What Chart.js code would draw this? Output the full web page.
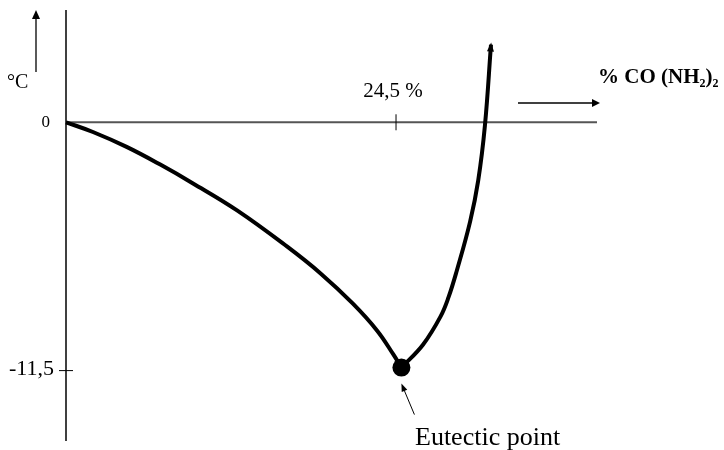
<!DOCTYPE html>
<html>
<head>
<meta charset="utf-8">
<script src="https://cdn.jsdelivr.net/npm/chart.js@4/dist/chart.umd.min.js"></script>
<style>
  html, body { margin: 0; background: #fff; }
</style>
</head>
<body>
<canvas id="c" width="724" height="450"></canvas>
<script>
// freezing branch (ice separates), % urea vs temperature
const iceX = [0, 2.0, 4.5, 7.0, 9.4, 12.7, 16.4, 18.9, 21.3, 23.1, 24.3, 24.9]
const iceT = [0, -0.45, -1.14, -1.96, -2.82, -4.08, -5.75, -7.0, -8.4, -9.65, -10.75, -11.36]
// solubility branch (urea separates)
const ureaX = [24.9, 26.5, 27.8, 28.4, 29.0, 30.0, 30.6, 31.1, 31.55]
const ureaT = [-11.36, -10.3, -9.0, -8.1, -6.9, -4.6, -2.7, -0.15, 3.6]
const eutecticX = [24.9]
const eutecticT = [-11.36]

const xTicks = [24.5]
const xTickLabels = ["24,5 %"]
const yTicks = [0, -11.5]
const yTickLabels = ["0", "-11,5"]

const toPoints = (xs, ys) => xs.map((x, i) => ({x: x, y: ys[i]}))

const serif = "'Liberation Serif', 'DejaVu Serif', serif"

function arrow(ctx, x1, y1, x2, y2, len, half) {
  const a = Math.atan2(y2 - y1, x2 - x1)
  ctx.beginPath()
  ctx.moveTo(x1, y1)
  ctx.lineTo(x2 - Math.cos(a) * len * 0.6, y2 - Math.sin(a) * len * 0.6)
  ctx.stroke()
  ctx.beginPath()
  ctx.moveTo(x2, y2)
  ctx.lineTo(x2 - Math.cos(a) * len - Math.sin(a) * half, y2 - Math.sin(a) * len + Math.cos(a) * half)
  ctx.lineTo(x2 - Math.cos(a) * len + Math.sin(a) * half, y2 - Math.sin(a) * len - Math.cos(a) * half)
  ctx.closePath()
  ctx.fill()
}

const axesPlugin = {
  id: "phaseAxes",
  beforeDatasetsDraw(chart) {
    const {ctx, chartArea: ca, scales: {x, y}} = chart
    const y0 = y.getPixelForValue(0)
    ctx.save()
    // horizontal 0 degC line
    ctx.strokeStyle = "#555"
    ctx.lineWidth = 2
    ctx.beginPath()
    ctx.moveTo(ca.left, y0)
    ctx.lineTo(ca.right, y0)
    ctx.stroke()
    // vertical axis
    ctx.strokeStyle = "#000"
    ctx.lineWidth = 1.5
    ctx.beginPath()
    ctx.moveTo(ca.left, ca.top)
    ctx.lineTo(ca.left, ca.bottom)
    ctx.stroke()

    ctx.lineWidth = 1
    ctx.fillStyle = "#000"
    ctx.textBaseline = "alphabetic"
    xTicks.forEach((v, i) => {
      const px = x.getPixelForValue(v)
      ctx.beginPath()
      ctx.moveTo(px, y0 - 8)
      ctx.lineTo(px, y0 + 8)
      ctx.stroke()
      ctx.font = "21px " + serif
      ctx.textAlign = "center"
      ctx.fillText(xTickLabels[i], px - 3, y0 - 25)
    })
    yTicks.forEach((v, i) => {
      const py = y.getPixelForValue(v)
      if (v !== 0) {
        ctx.beginPath()
        ctx.moveTo(ca.left - 7, py)
        ctx.lineTo(ca.left + 7, py)
        ctx.stroke()
      }
      ctx.textAlign = "right"
      ctx.font = (v === 0 ? "17px " : "22px ") + serif
      ctx.fillText(yTickLabels[i], v === 0 ? ca.left - 16 : ca.left - 12, py + (v === 0 ? 5 : 4))
    })
    ctx.restore()
  },
  afterDatasetsDraw(chart) {
    const {ctx, chartArea: ca, scales: {x, y}} = chart
    ctx.save()
    ctx.fillStyle = "#000"
    ctx.strokeStyle = "#000"

    // arrow head at the top of the solubility curve
    const n = ureaX.length
    const ax = x.getPixelForValue(ureaX[n - 1]), ay = y.getPixelForValue(ureaT[n - 1])
    const bx = x.getPixelForValue(ureaX[n - 2]), by = y.getPixelForValue(ureaT[n - 2])
    const a = Math.atan2(ay - by, ax - bx)
    ctx.beginPath()
    ctx.moveTo(ax + Math.cos(a) * 2, ay + Math.sin(a) * 2)
    ctx.lineTo(ax - Math.cos(a) * 7 - Math.sin(a) * 3.5, ay - Math.sin(a) * 7 + Math.cos(a) * 3.5)
    ctx.lineTo(ax - Math.cos(a) * 7 + Math.sin(a) * 3.5, ay - Math.sin(a) * 7 - Math.cos(a) * 3.5)
    ctx.closePath()
    ctx.fill()

    // unit arrows
    ctx.lineWidth = 1.3
    arrow(ctx, ca.left - 30, 72, ca.left - 30, ca.top, 9, 4)
    arrow(ctx, 518, 103, 600, 103, 8, 4)

    ctx.textAlign = "left"
    ctx.textBaseline = "alphabetic"
    ctx.font = "20px " + serif
    ctx.fillText("\u00B0C", 7, 88)

    // component label with subscripts
    let tx = 598
    const main = "bold 21px " + serif, sub = "bold 12px " + serif
    const parts = [["% CO (NH", main, 0], ["2", sub, 4], [")", main, 0], ["2", sub, 4]]
    parts.forEach(([t, f, dy]) => {
      ctx.font = f
      ctx.fillText(t, tx, 83 + dy)
      tx += ctx.measureText(t).width
    })

    // eutectic annotation
    const ex = x.getPixelForValue(eutecticX[0]), ey = y.getPixelForValue(eutecticT[0])
    ctx.lineWidth = 1
    arrow(ctx, ex + 13, ey + 47, ex, ey + 16, 8, 3)
    ctx.font = "26px " + serif
    ctx.fillText("Eutectic point", 415, 445)
    ctx.restore()
  }
}

new Chart(document.getElementById("c"), {
  type: "scatter",
  data: {
    datasets: [
      {
        data: toPoints(iceX, iceT),
        showLine: true,
        borderColor: "#000",
        borderWidth: 4,
        pointRadius: 0,
        tension: 0.4,
        clip: false
      },
      {
        data: toPoints(ureaX, ureaT),
        showLine: true,
        borderColor: "#000",
        borderWidth: 4,
        pointRadius: 0,
        tension: 0.4,
        clip: false
      },
      {
        data: toPoints(eutecticX, eutecticT),
        pointRadius: 9,
        pointBackgroundColor: "#000",
        pointBorderWidth: 0,
        clip: false
      }
    ]
  },
  options: {
    responsive: false,
    animation: false,
    devicePixelRatio: 1,
    layout: {padding: {left: 66, right: 127, top: 10, bottom: 5}},
    plugins: {legend: {display: false}, tooltip: {enabled: false}},
    scales: {
      x: {type: "linear", display: false, min: 0, max: 39.42},
      y: {type: "linear", display: false, min: -14.76, max: 5.2}
    }
  },
  plugins: [axesPlugin]
})
</script>
</body>
</html>
